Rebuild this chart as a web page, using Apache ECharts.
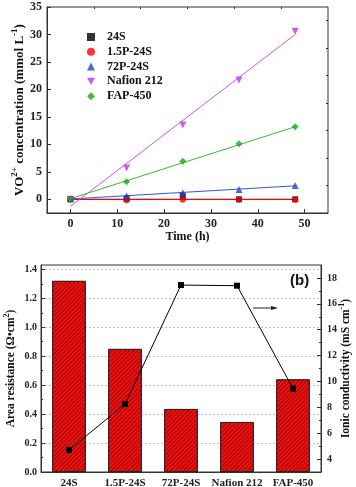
<!DOCTYPE html>
<html>
<head>
<meta charset="utf-8">
<script src="https://cdn.jsdelivr.net/npm/echarts@6/dist/echarts.min.js"></script>
<style>
html, body { margin: 0; padding: 0; background: #fff; }
#main { width: 356px; height: 487px; }
</style>
</head>
<body>
<div id="main"></div>
<script>
// top panel: VO2+ permeation
var times = [0, 12, 24, 36, 48];
var conc24S = [0, 0.1, 0.6, 0, 0];
var conc15P = [0, -0.2, -0.1, -0.1, -0.1];
var conc72P = [0.1, 0.6, 1.2, 1.8, 2.5];
var concNafion = [0, 5.7, 13.5, 21.7, 30.6];
var concFAP = [0, 3.2, 6.9, 10.1, 13.2];

// fitted lines, end points
var fit24S = [[0, 0], [48, 0]];
var fit15P = [[0, -0.05], [48, -0.05]];
var fit72P = [[0, 0.05], [48, 2.45]];
var fitNafion = [[0, -1.3], [48, 30]];
var fitFAP = [[0, 0.1], [48, 13.2]];

var xTicks = [0, 10, 20, 30, 40, 50];
var xMinor = [5, 15, 25, 35, 45];
var yTicks = [0, 5, 10, 15, 20, 25, 30, 35];
var yMinor = [2.5, 7.5, 12.5, 17.5, 22.5, 27.5, 32.5];

// bottom panel
var membranes = ['24S', '1.5P-24S', '72P-24S', 'Nafion 212', 'FAP-450'];
var areaRes = [1.32, 0.85, 0.435, 0.345, 0.64];
var ionicCond = [4.7, 8.25, 17.45, 17.4, 9.45];
var resTicks = [0, 0.2, 0.4, 0.6, 0.8, 1.0, 1.2, 1.4];
var resMinor = [0.1, 0.3, 0.5, 0.7, 0.9, 1.1, 1.3];
var condTicks = [4, 6, 8, 10, 12, 14, 16, 18];
var condMinor = [5, 7, 9, 11, 13, 15, 17];

var serif = '"Liberation Serif", "Times New Roman", serif';
var axisCol = '#333';

function pts(arr) {
    return times.map(function (t, i) { return [t, arr[i]]; });
}

function majorAxis(o) {
    var base = {
        nameMoveOverlap: false,
        axisLine: { show: true, onZero: false, lineStyle: { color: axisCol, width: 1 } },
        axisTick: { show: true, inside: true, length: 4, lineStyle: { color: axisCol } },
        axisLabel: { color: '#222', fontFamily: serif, fontWeight: 'bold', fontSize: 12, margin: 5 },
        splitLine: { show: false }
    };
    return echarts.util.merge(base, o, true);
}

function minorAxis(o) {
    var base = {
        axisLine: { show: false, onZero: false },
        axisTick: { show: true, inside: true, length: 2, lineStyle: { color: axisCol } },
        axisLabel: { show: false },
        splitLine: { show: false }
    };
    return echarts.util.merge(base, o, true);
}

function nameRich(size, supSize, lh) {
    return {
        rich: {
            n: { fontFamily: serif, fontWeight: 'bold', fontSize: size, color: '#111', lineHeight: lh, verticalAlign: 'bottom' },
            s: { fontFamily: serif, fontWeight: 'bold', fontSize: supSize, color: '#111', lineHeight: lh, verticalAlign: 'top' }
        }
    };
}

var markers = [
    { name: '24S', data: conc24S, fit: fit24S, symbol: 'rect', color: '#000000', line: '#000000', size: 6 },
    { name: '1.5P-24S', data: conc15P, fit: fit15P, symbol: 'circle', color: '#ff0000', line: '#ff0000', size: 6 },
    { name: '72P-24S', data: conc72P, fit: fit72P, symbol: 'triangle', color: '#2244cc', line: '#3355dd', size: 7 },
    { name: 'Nafion 212', data: concNafion, fit: fitNafion, symbol: 'path://M0,0 L10,0 L5,9 Z', color: '#bb33ee', line: '#cc55ee', size: 7 },
    { name: 'FAP-450', data: concFAP, fit: fitFAP, symbol: 'diamond', color: '#11aa11', line: '#33bb33', size: 7 }
];

var series = [];
markers.forEach(function (m) {
    series.push({
        name: m.name + ' fit',
        type: 'line',
        xAxisIndex: 0, yAxisIndex: 0,
        data: m.fit,
        showSymbol: false,
        silent: true,
        lineStyle: { color: m.line, width: 1 },
        z: 2
    });
});
markers.forEach(function (m) {
    series.push({
        name: m.name,
        type: 'scatter',
        xAxisIndex: 0, yAxisIndex: 0,
        data: pts(m.data),
        symbol: m.symbol,
        symbolSize: m.size,
        itemStyle: { color: m.color },
        z: 3
    });
});

series.push({
    name: 'Area resistance',
    type: 'bar',
    xAxisIndex: 2, yAxisIndex: 2,
    data: areaRes,
    barWidth: '60%',
    itemStyle: {
        color: '#f01010',
        borderColor: '#222',
        borderWidth: 0.8,
        decal: {
            symbol: 'rect',
            symbolSize: 1,
            dashArrayX: [1, 0],
            dashArrayY: [1, 2],
            rotation: -Math.PI / 4,
            color: 'rgba(90,0,0,0.55)'
        }
    },
    z: 2
});
series.push({
    name: 'Ionic conductivity',
    type: 'line',
    xAxisIndex: 2, yAxisIndex: 4,
    data: ionicCond,
    symbol: 'rect',
    symbolSize: 6,
    itemStyle: { color: '#000' },
    lineStyle: { color: '#000', width: 1 },
    z: 4
});

var option = {
    animation: false,
    backgroundColor: '#fff',
    grid: [
        { left: 47, right: 28, top: 7, height: 206, show: true, borderColor: axisCol, borderWidth: 1, containLabel: false, outerBoundsMode: 'none' },
        { left: 41, right: 35, top: 265, height: 207, show: true, borderColor: axisCol, borderWidth: 1, containLabel: false, outerBoundsMode: 'none' }
    ],
    legend: {
        orient: 'vertical',
        left: 82,
        top: 26,
        itemWidth: 8,
        itemHeight: 8,
        itemGap: 2.8,
        data: [
            { name: '24S', icon: 'rect' },
            { name: '1.5P-24S', icon: 'circle' },
            { name: '72P-24S', icon: 'triangle' },
            { name: 'Nafion 212', icon: 'path://M0,0 L10,0 L5,9 Z' },
            { name: 'FAP-450', icon: 'diamond' }
        ],
        textStyle: { fontFamily: serif, fontWeight: 'bold', fontSize: 12, color: '#111', padding: [0, 0, 0, 7] }
    },
    xAxis: [
        majorAxis({
            gridIndex: 0, type: 'value', min: -5, max: 55,
            axisTick: { customValues: xTicks },
            axisLabel: { customValues: xTicks },
            name: 'Time (h)', nameLocation: 'middle', nameGap: 18,
            nameTextStyle: { fontFamily: serif, fontWeight: 'bold', fontSize: 12, color: '#111' }
        }),
        minorAxis({ gridIndex: 0, type: 'value', min: -5, max: 55, axisTick: { customValues: xMinor } }),
        {
            gridIndex: 1, type: 'category', data: membranes, boundaryGap: true,
            axisLine: { show: true, onZero: false, lineStyle: { color: axisCol, width: 1 } },
            axisTick: { show: false },
            axisLabel: { color: '#222', fontFamily: serif, fontWeight: 'bold', fontSize: 11, margin: 6, interval: 0 }
        }
    ],
    yAxis: [
        majorAxis({
            gridIndex: 0, type: 'value', min: -2.5, max: 35,
            axisTick: { customValues: yTicks },
            axisLabel: { customValues: yTicks },
            name: '{n|VO}{s|2+}{n| concentration (mmol L}{s|-1}{n|)}',
            nameLocation: 'middle', nameGap: 21,
            nameTextStyle: nameRich(13, 9, 16)
        }),
        minorAxis({ gridIndex: 0, type: 'value', min: -2.5, max: 35, axisTick: { customValues: yMinor } }),
        majorAxis({
            gridIndex: 1, type: 'value', position: 'left', min: 0, max: 1.43, interval: 0.2,
            axisTick: { customValues: resTicks },
            axisLabel: { customValues: resTicks, fontSize: 10, margin: 4, formatter: function (v) { return v.toFixed(1); } },
            splitLine: { show: true, lineStyle: { color: '#bbb', type: [2, 2], width: 1 } },
            name: '{n|Area resistance (Ω•cm}{s|2}{n|)}',
            nameLocation: 'middle', nameGap: 24,
            nameTextStyle: nameRich(11.5, 8, 14)
        }),
        minorAxis({ gridIndex: 1, type: 'value', position: 'left', min: 0, max: 1.43, axisTick: { customValues: resMinor } }),
        majorAxis({
            gridIndex: 1, type: 'value', position: 'right', min: 3, max: 19,
            axisTick: { customValues: condTicks },
            axisLabel: { customValues: condTicks, fontSize: 10, margin: 6 },
            name: '{n|Ionic conductivity (mS cm}{s|-1}{n|)}',
            nameLocation: 'middle', nameGap: 17,
            nameTextStyle: nameRich(11.5, 8, 14)
        }),
        minorAxis({ gridIndex: 1, type: 'value', position: 'right', min: 3, max: 19, axisTick: { customValues: condMinor } })
    ],
    graphic: [
        {
            type: 'text', left: 290, top: 273,
            style: { text: '(b)', fontFamily: '"Liberation Sans", Arial, sans-serif', fontWeight: 'bold', fontSize: 15, fill: '#111' }
        },
        {
            type: 'line', shape: { x1: 253, y1: 308, x2: 272, y2: 308 },
            style: { stroke: '#222', lineWidth: 1 }
        },
        {
            type: 'polygon', shape: { points: [[271, 306], [278, 308], [271, 310]] },
            style: { fill: '#222' }
        }
    ],
    series: series
};

var chart = echarts.init(document.getElementById('main'));
chart.setOption(option);
</script>
</body>
</html>
